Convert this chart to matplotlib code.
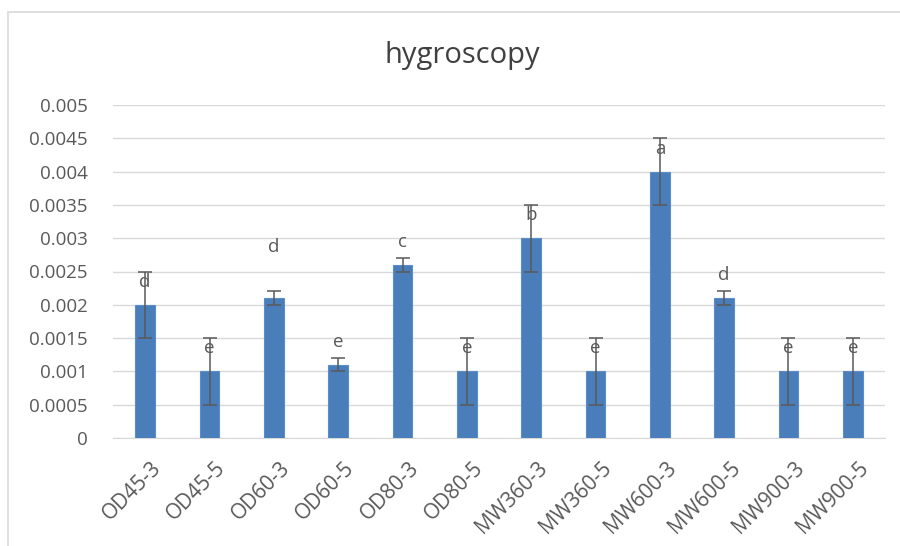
import matplotlib
matplotlib.use("Agg")
import matplotlib.pyplot as plt
import matplotlib.transforms as mtransforms
from matplotlib.patches import Rectangle

# data
samples = ["OD45-3", "OD45-5", "OD60-3", "OD60-5", "OD80-3", "OD80-5",
           "MW360-3", "MW360-5", "MW600-3", "MW600-5", "MW900-3", "MW900-5"]
hygroscopy = [0.002, 0.001, 0.0021, 0.0011, 0.0026, 0.001,
              0.003, 0.001, 0.004, 0.0021, 0.001, 0.001]
err = [0.0005, 0.0005, 0.0001, 0.0001, 0.0001, 0.0005,
       0.0005, 0.0005, 0.0005, 0.0001, 0.0005, 0.0005]
letters = ["d", "e", "d", "e", "c", "e", "b", "e", "a", "d", "e", "e"]

# label offsets above bar top (pixels)
lab_off = [23, 23, 51, 23, 23, 23, 23, 23, 23, 23, 23, 23]

plt.rcParams['font.family'] = ['Open Sans', 'DejaVu Sans']
txt = "#595959"

fig = plt.figure(figsize=(9, 5.46), dpi=100)
fig.patches.append(Rectangle((8 / 900, -0.01), 1.0, 1 - 12 / 546 + 0.01,
                             transform=fig.transFigure, fill=False,
                             edgecolor="#D9D9D9", linewidth=1.2))
ax = fig.add_axes([113 / 900, 1 - 438 / 546, (885 - 113) / 900, (438 - 105) / 546])

x = range(len(samples))
ax.bar(x, hygroscopy, width=0.31, color="#4A7EBB", edgecolor="#5B8DC8",
       linewidth=0.8, zorder=3)
ax.errorbar(x, hygroscopy, yerr=err, fmt="none", ecolor="#595959",
            elinewidth=1.1, capsize=5, capthick=1.1, zorder=4)
for i, (v, l) in enumerate(zip(hygroscopy, letters)):
    ax.annotate(l, (i, v), xytext=(0, lab_off[i] * 0.72), textcoords="offset points",
                ha="center", va="center", fontsize=13.5, color=txt, zorder=5)

ax.set_xlim(-0.5, len(samples) - 0.5)
ax.set_ylim(0, 0.005)
ax.set_yticks([i * 0.0005 for i in range(11)])
ax.set_yticklabels(["0"] + ["%g" % (i * 0.0005) for i in range(1, 11)])
ax.yaxis.grid(True, color="#D9D9D9", linewidth=1.0, zorder=0)
ax.set_axisbelow(True)
for s in ["top", "right", "left"]:
    ax.spines[s].set_visible(False)
ax.spines["bottom"].set_color("#D9D9D9")
ax.tick_params(axis="both", length=0, colors=txt, labelsize=13.5)
ax.tick_params(axis="y", pad=18)
ax.set_xticks(list(x))
ax.set_xticklabels(samples, rotation=45, ha="right", rotation_mode="anchor",
                   fontsize=15)
ax.tick_params(axis="x", pad=14)
shift = mtransforms.ScaledTranslation(4 / 72, 0, fig.dpi_scale_trans)
for lbl in ax.get_xticklabels():
    lbl.set_transform(lbl.get_transform() + shift)

fig.text(462 / 900, 1 - 55 / 546, "hygroscopy", ha="center", va="center",
         fontsize=21, color="#404040")

fig.savefig("out.png", dpi=100)
